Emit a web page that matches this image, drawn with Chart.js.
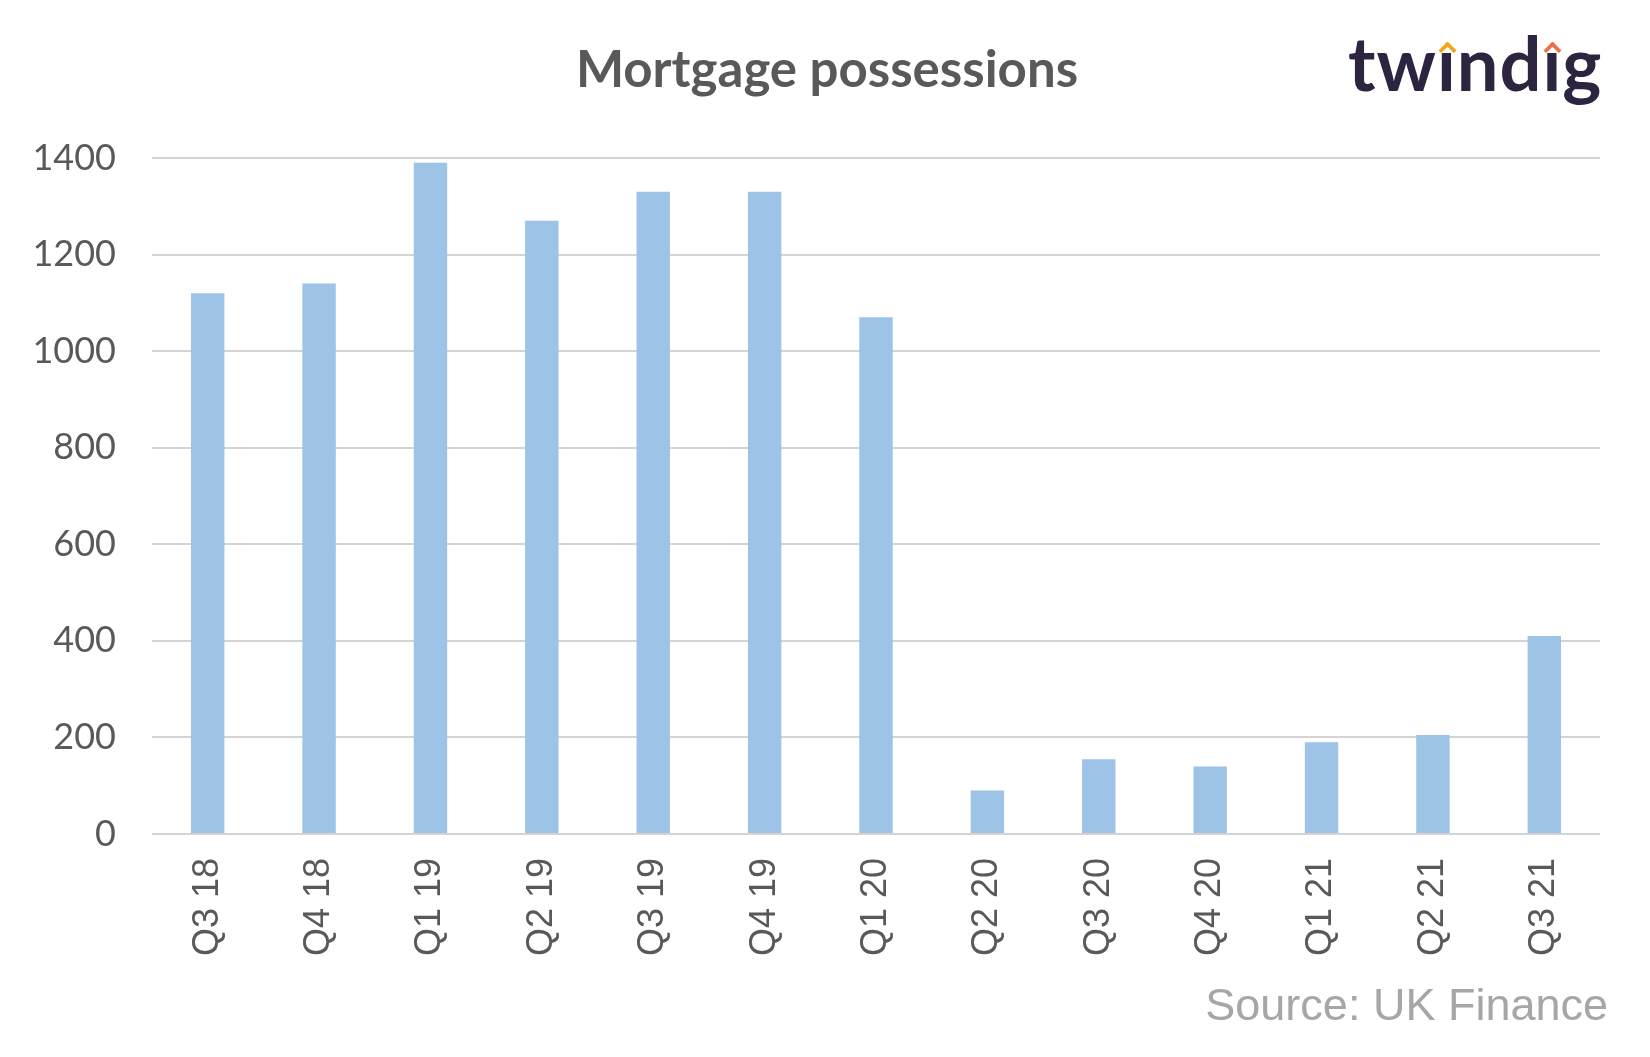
<!DOCTYPE html>
<html>
<head>
<meta charset="utf-8">
<script src="https://cdn.jsdelivr.net/npm/chart.js@4.4.0/dist/chart.umd.min.js"></script>
<style>
  html, body { margin: 0; padding: 0; background: #fff; }
  #wrap { position: relative; width: 1650px; height: 1057px; overflow: hidden; }
  #chart { position: absolute; left: 0; top: 0; }
  .title { position: absolute; left: 0; width: 1654px; top: 42px; text-align: center;
    font: 700 51px Lato, sans-serif; line-height: 1; color: #595959; }
  .logo { position: absolute; left: 1348px; top: 26px; font: 700 74px Lato, sans-serif;
    line-height: 1; color: #2d2540; letter-spacing: 1px; }
  .logo .i { position: relative; display: inline-block; }
  .logo .i::before { content: ''; position: absolute; left: -3px; right: -3px; top: 0; height: 26px; background: #fff; }
  .logo .i::after { content: ''; position: absolute; left: 50%; top: 18px; width: 9px; height: 9px;
    margin-left: -6px; border-top: 4px solid var(--c); border-left: 4px solid var(--c);
    border-radius: 2px 0 0 0; transform: rotate(45deg); }
  .source { position: absolute; right: 42px; top: 982px; font: 45px "Liberation Sans", Arial, sans-serif;
    line-height: 1; color: #a6a6a6; }
</style>
</head>
<body>
<div id="wrap">
  <canvas id="chart" width="1650" height="1057"></canvas>
  <div class="title">Mortgage possessions</div>
  <div class="logo">tw<span class="i" style="--c:#f7a21b">i</span>nd<span class="i" style="--c:#f26b4a">i</span>g</div>
  <div class="source">Source: UK Finance</div>
</div>
<script>
// ===== DATA =====
const quarters = ['Q3 18', 'Q4 18', 'Q1 19', 'Q2 19', 'Q3 19', 'Q4 19', 'Q1 20',
  'Q2 20', 'Q3 20', 'Q4 20', 'Q1 21', 'Q2 21', 'Q3 21'];
const possessions = [1120, 1140, 1390, 1270, 1330, 1330, 1070, 90, 155, 140, 190, 205, 410];
const yTicks = [0, 200, 400, 600, 800, 1000, 1200, 1400];

const COLORS = {
  bar: '#9dc3e6',
  grid: '#d4d4d4',
  text: '#595959',
};

new Chart(document.getElementById('chart'), {
  type: 'bar',
  data: {
    labels: quarters,
    datasets: [{
      label: 'Mortgage possessions',
      data: possessions,
      backgroundColor: COLORS.bar,
      borderWidth: 0,
      categoryPercentage: 1,
      barPercentage: 0.3,
    }],
  },
  options: {
    responsive: false,
    animation: false,
    layout: { padding: { top: 158, right: 50, left: 0, bottom: 0 } },
    plugins: { legend: { display: false }, tooltip: { enabled: false } },
    scales: {
      x: {
        grid: { display: false, drawTicks: false },
        border: { display: false },
        afterFit: (scale) => { scale.height = 223; },
        ticks: {
          color: COLORS.text,
          font: { family: 'Liberation Sans', size: 36 },
          minRotation: 90,
          maxRotation: 90,
          padding: 24,
          autoSkip: false,
        },
      },
      y: {
        min: 0,
        max: 1400,
        afterBuildTicks: (scale) => { scale.ticks = yTicks.map(v => ({ value: v })); },
        afterFit: (scale) => { scale.width = 152; },
        grid: { color: COLORS.grid, lineWidth: 2, drawTicks: false },
        border: { display: false },
        ticks: {
          color: COLORS.text,
          font: { family: 'Lato', size: 36 },
          padding: 36,
          callback: (v) => String(v),
        },
      },
    },
  },
});
</script>
</body>
</html>
